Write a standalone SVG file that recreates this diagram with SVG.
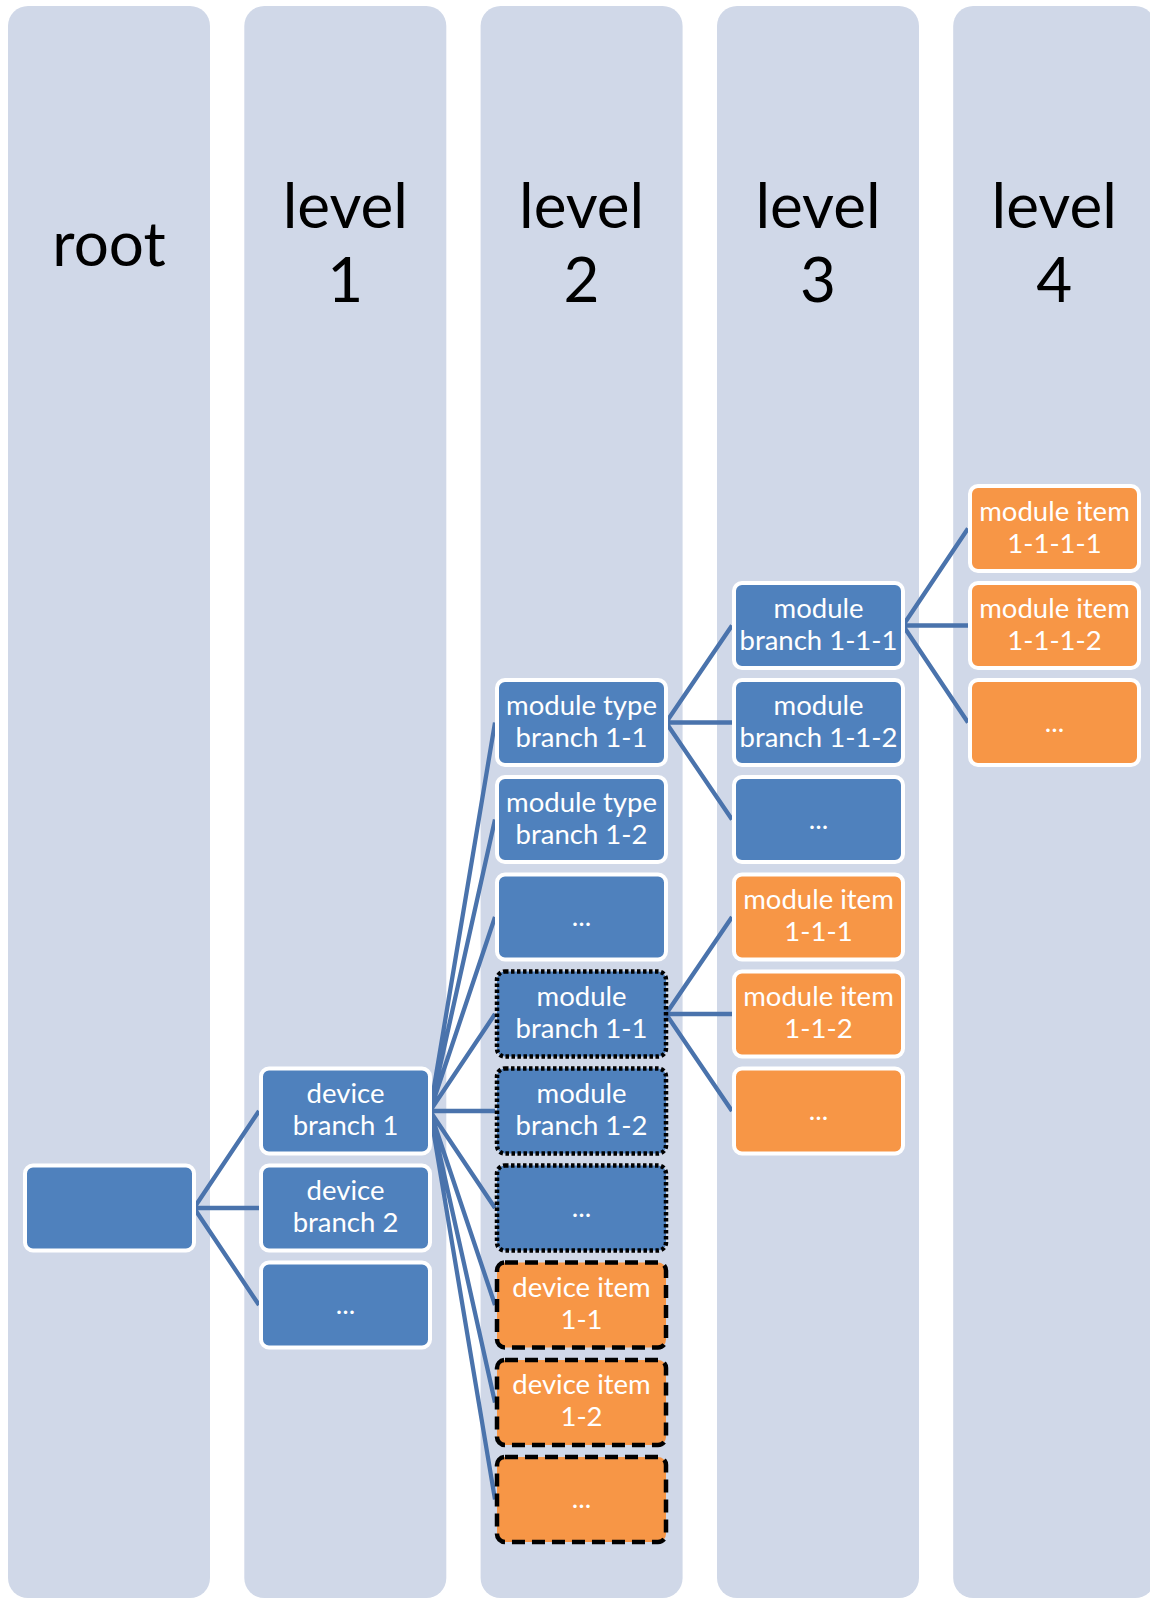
<svg xmlns="http://www.w3.org/2000/svg" width="1150" height="1602" viewBox="0 0 1150 1602">
  <style>
    .lane { fill: #d0d8e8; }
    .head { font-family: Lato, "Liberation Sans", sans-serif; font-size: 62px; fill: #000; text-anchor: middle; }
    .node { stroke: #ffffff; stroke-width: 4; }
    .blue { fill: #4f81bd; }
    .orange { fill: #f79646; }
    .dotted { stroke: #000; stroke-width: 4.5; stroke-dasharray: 3.5 2.5; }
    .dashed { stroke: #000; stroke-width: 4.5; stroke-dasharray: 13 7; }
    .label { font-family: Lato, "Liberation Sans", sans-serif; font-size: 27.5px; fill: #fff; text-anchor: middle; }
    .wire { stroke: #4a73ac; stroke-width: 4.3; fill: none; }
  </style>

  <!-- level lanes -->
  <g id="lanes">
    <rect class="lane" x="8" y="6" width="202" height="1592" rx="20"/>
    <rect class="lane" x="244.3" y="6" width="202" height="1592" rx="20"/>
    <rect class="lane" x="480.6" y="6" width="202" height="1592" rx="20"/>
    <rect class="lane" x="717" y="6" width="202" height="1592" rx="20"/>
    <rect class="lane" x="953.2" y="6" width="202" height="1592" rx="20"/>
    <text class="head" x="109" y="266">root</text>
    <text class="head" x="345.3" y="228">level</text>
    <text class="head" x="345.3" y="302">1</text>
    <text class="head" x="581.6" y="228">level</text>
    <text class="head" x="581.6" y="302">2</text>
    <text class="head" x="818" y="228">level</text>
    <text class="head" x="818" y="302">3</text>
    <text class="head" x="1054.2" y="228">level</text>
    <text class="head" x="1054.2" y="302">4</text>
  </g>

  <!-- connectors -->
  <g id="connectors">
    <path class="wire" d="M194 1208 L259 1111 M194 1208 L259 1208 M194 1208 L259 1305"/>
    <path class="wire" d="M430 1111 L495 722.5 M430 1111 L495 819.5 M430 1111 L495 917 M430 1111 L495 1014 M430 1111 L495 1111 M430 1111 L495 1208 M430 1111 L495 1305 M430 1111 L495 1402.5 M430 1111 L495 1499.5"/>
    <path class="wire" d="M666 722.5 L732 625.5 M666 722.5 L732 722.5 M666 722.5 L732 819.5"/>
    <path class="wire" d="M666 1014 L732 917 M666 1014 L732 1014 M666 1014 L732 1111"/>
    <path class="wire" d="M903 625.5 L968 528.5 M903 625.5 L968 625.5 M903 625.5 L968 722.5"/>
  </g>

  <!-- root -->
  <g id="root">
    <rect class="node blue" x="25" y="1165.5" width="169" height="85" rx="8"/>
  </g>

  <!-- level 1 -->
  <g id="device-branch-1">
    <rect class="node blue" x="261" y="1068.5" width="169" height="85" rx="8"/>
    <text class="label" x="345.5" y="1103">device</text>
    <text class="label" x="345.5" y="1135">branch 1</text>
  </g>
  <g id="device-branch-2">
    <rect class="node blue" x="261" y="1165.5" width="169" height="85" rx="8"/>
    <text class="label" x="345.5" y="1200">device</text>
    <text class="label" x="345.5" y="1232">branch 2</text>
  </g>
  <g id="device-branch-more">
    <rect class="node blue" x="261" y="1262.5" width="169" height="85" rx="8"/>
    <text class="label" x="345.5" y="1314">...</text>
  </g>

  <!-- level 2 -->
  <g id="module-type-branch-1-1">
    <rect class="node blue" x="497" y="680" width="169" height="85" rx="8"/>
    <text class="label" x="581.5" y="715">module type</text>
    <text class="label" x="581.5" y="747">branch 1-1</text>
  </g>
  <g id="module-type-branch-1-2">
    <rect class="node blue" x="497" y="777" width="169" height="85" rx="8"/>
    <text class="label" x="581.5" y="812">module type</text>
    <text class="label" x="581.5" y="844">branch 1-2</text>
  </g>
  <g id="module-type-branch-more">
    <rect class="node blue" x="497" y="874.5" width="169" height="85" rx="8"/>
    <text class="label" x="581.5" y="926">...</text>
  </g>
  <g id="module-branch-1-1">
    <rect class="blue dotted" x="497" y="971.5" width="169" height="85" rx="8"/>
    <text class="label" x="581.5" y="1006">module</text>
    <text class="label" x="581.5" y="1038">branch 1-1</text>
  </g>
  <g id="module-branch-1-2">
    <rect class="blue dotted" x="497" y="1068.5" width="169" height="85" rx="8"/>
    <text class="label" x="581.5" y="1103">module</text>
    <text class="label" x="581.5" y="1135">branch 1-2</text>
  </g>
  <g id="module-branch-more">
    <rect class="blue dotted" x="497" y="1165.5" width="169" height="85" rx="8"/>
    <text class="label" x="581.5" y="1217">...</text>
  </g>
  <g id="device-item-1-1">
    <rect class="orange dashed" x="497" y="1262.5" width="169" height="85" rx="8"/>
    <text class="label" x="581.5" y="1297">device item</text>
    <text class="label" x="581.5" y="1329">1-1</text>
  </g>
  <g id="device-item-1-2">
    <rect class="orange dashed" x="497" y="1360" width="169" height="85" rx="8"/>
    <text class="label" x="581.5" y="1394">device item</text>
    <text class="label" x="581.5" y="1426">1-2</text>
  </g>
  <g id="device-item-more">
    <rect class="orange dashed" x="497" y="1457" width="169" height="85" rx="8"/>
    <text class="label" x="581.5" y="1508">...</text>
  </g>

  <!-- level 3 -->
  <g id="module-branch-1-1-1">
    <rect class="node blue" x="734" y="583" width="169" height="85" rx="8"/>
    <text class="label" x="818.5" y="618">module</text>
    <text class="label" x="818.5" y="650">branch 1-1-1</text>
  </g>
  <g id="module-branch-1-1-2">
    <rect class="node blue" x="734" y="680" width="169" height="85" rx="8"/>
    <text class="label" x="818.5" y="715">module</text>
    <text class="label" x="818.5" y="747">branch 1-1-2</text>
  </g>
  <g id="module-branch-1-1-more">
    <rect class="node blue" x="734" y="777" width="169" height="85" rx="8"/>
    <text class="label" x="818.5" y="829">...</text>
  </g>
  <g id="module-item-1-1-1">
    <rect class="node orange" x="734" y="874.5" width="169" height="85" rx="8"/>
    <text class="label" x="818.5" y="909">module item</text>
    <text class="label" x="818.5" y="941">1-1-1</text>
  </g>
  <g id="module-item-1-1-2">
    <rect class="node orange" x="734" y="971.5" width="169" height="85" rx="8"/>
    <text class="label" x="818.5" y="1006">module item</text>
    <text class="label" x="818.5" y="1038">1-1-2</text>
  </g>
  <g id="module-item-1-1-more">
    <rect class="node orange" x="734" y="1068.5" width="169" height="85" rx="8"/>
    <text class="label" x="818.5" y="1120">...</text>
  </g>

  <!-- level 4 -->
  <g id="module-item-1-1-1-1">
    <rect class="node orange" x="970" y="486" width="169" height="85" rx="8"/>
    <text class="label" x="1054.5" y="521">module item</text>
    <text class="label" x="1054.5" y="553">1-1-1-1</text>
  </g>
  <g id="module-item-1-1-1-2">
    <rect class="node orange" x="970" y="583" width="169" height="85" rx="8"/>
    <text class="label" x="1054.5" y="618">module item</text>
    <text class="label" x="1054.5" y="650">1-1-1-2</text>
  </g>
  <g id="module-item-1-1-1-more">
    <rect class="node orange" x="970" y="680" width="169" height="85" rx="8"/>
    <text class="label" x="1054.5" y="732">...</text>
  </g>
</svg>
